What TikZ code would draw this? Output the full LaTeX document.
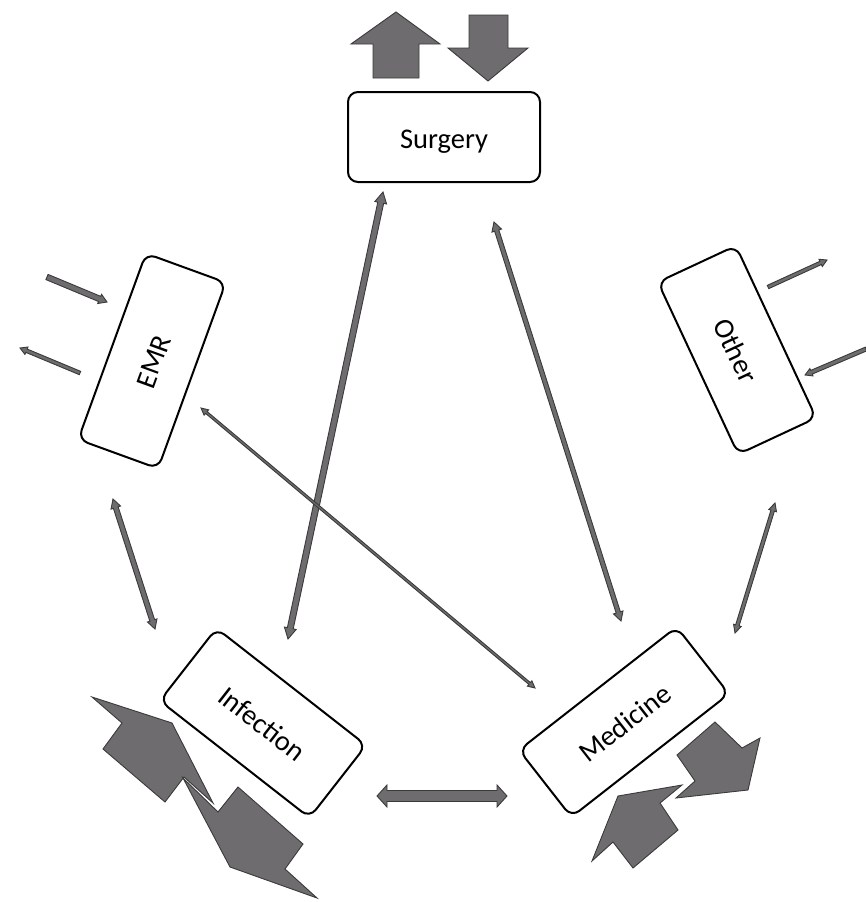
\documentclass[tikz,border=0pt]{standalone}
\usepackage{fontspec}
\setmainfont{Carlito}
\usetikzlibrary{calc}
\definecolor{afill}{HTML}{6E6C6E}
\definecolor{aline}{HTML}{3A3A3A}
\tikzset{
  box/.style={draw=black, line width=2pt, rounded corners=10pt, inner sep=0pt, fill=white,
    text height=22pt, text depth=0pt, font=\fontsize{28.5}{34}\selectfont},
  blk/.style={fill=afill, draw=aline, line width=0.9pt, line join=miter},
}
% double-headed block arrow: A, B, shaft half-width, head half-width, head length
\newcommand\dblarrow[5]{%
  \filldraw[blk] (#1) -- ($(#1)!#5!(#2)!#4!90:(#2)$) -- ($(#1)!#5!(#2)!#3!90:(#2)$)
   -- ($(#2)!#5!(#1)!#3!-90:(#1)$) -- ($(#2)!#5!(#1)!#4!-90:(#1)$) -- (#2)
   -- ($(#2)!#5!(#1)!#4!90:(#1)$) -- ($(#2)!#5!(#1)!#3!90:(#1)$)
   -- ($(#1)!#5!(#2)!#3!-90:(#2)$) -- ($(#1)!#5!(#2)!#4!-90:(#2)$) -- cycle;}
% single-headed block arrow: from A to tip B
\newcommand\onearrow[5]{%
  \filldraw[blk] ($(#1)!#3!90:(#2)$) -- ($(#2)!#5!(#1)!#3!-90:(#1)$)
   -- ($(#2)!#5!(#1)!#4!-90:(#1)$) -- (#2) -- ($(#2)!#5!(#1)!#4!90:(#1)$)
   -- ($(#2)!#5!(#1)!#3!90:(#1)$) -- ($(#1)!#3!-90:(#2)$) -- cycle;}
\begin{document}
\begin{tikzpicture}[x=1pt, y=-1pt]
\useasboundingbox (0,0) rectangle (866,902);

% boxes
\node[box, minimum width=192pt, minimum height=90pt] (surg) at (444,137) {Surgery};
\node[box, minimum width=198pt, minimum height=85pt, rotate=70] (emr) at (152,361) {EMR};
\node[box, minimum width=190pt, minimum height=86pt, rotate=-65] (oth) at (737,350) {Other};
\node[box, minimum width=190pt, minimum height=92pt, rotate=-38] (inf) at (263,723) {Infection};
\node[box, minimum width=200pt, minimum height=85pt, rotate=38] (med) at (624,722) {Medicine};

% connector end points
\coordinate (si1) at (383,192); \coordinate (si2) at (288,639);
\coordinate (sm1) at (494,222); \coordinate (sm2) at (621,621);
\coordinate (em1) at (201,408); \coordinate (em2) at (535,688);
\coordinate (ei1) at (113,499); \coordinate (ei2) at (155,629);
\coordinate (om1) at (775,503); \coordinate (om2) at (735,633);
\coordinate (im1) at (377,796); \coordinate (im2) at (507,796);

\dblarrow{si1}{si2}{3pt}{6pt}{11pt}
\dblarrow{sm1}{sm2}{2.2pt}{5pt}{9pt}
\dblarrow{em1}{em2}{1.2pt}{3.5pt}{7pt}
\dblarrow{ei1}{ei2}{2.5pt}{5pt}{9pt}
\dblarrow{om1}{om2}{1.8pt}{4pt}{8pt}
\dblarrow{im1}{im2}{5.5pt}{11pt}{10pt}

% EMR side arrows
\coordinate (ea1) at (47,277); \coordinate (ea2) at (107,302);
\coordinate (eb1) at (80,373); \coordinate (eb2) at (20,348);
\onearrow{ea1}{ea2}{2.8pt}{5pt}{8pt}
\onearrow{eb1}{eb2}{1.8pt}{4pt}{7pt}
% Other side arrows
\coordinate (oa1) at (768,287); \coordinate (oa2) at (827,260);
\coordinate (ob1) at (866,349); \coordinate (ob2) at (805,375);
\onearrow{oa1}{oa2}{1.8pt}{4pt}{7pt}
\onearrow{ob1}{ob2}{2pt}{4pt}{7pt}

% Surgery big arrows
\filldraw[blk] (396,12) -- (440,44) -- (419,44) -- (419,78) -- (373,78) -- (373,44) -- (351,44) -- cycle;
\filldraw[blk] (469,15) -- (508,15) -- (508,48) -- (528,48) -- (488,81) -- (448,48) -- (469,48) -- cycle;

% Infection big arrows
\filldraw[blk] (92,697) -- (172,723) -- (213,803) -- (184,777) -- (165,802) -- (103,749) -- (122,723) -- cycle;
\filldraw[blk] (183,778) -- (218,812) -- (238,787) -- (303,844) -- (285,869) -- (317,898) -- (230,867) -- cycle;

% Medicine big arrows
\filldraw[blk] (592,861) -- (618,796) -- (682,785) -- (660,803) -- (678,830) -- (633,868) -- (613,842) -- cycle;
\filldraw[blk] (676,798) -- (695,781) -- (677,755) -- (715,722) -- (742,748) -- (760,738) -- (748,790) -- cycle;
\end{tikzpicture}
\end{document}
